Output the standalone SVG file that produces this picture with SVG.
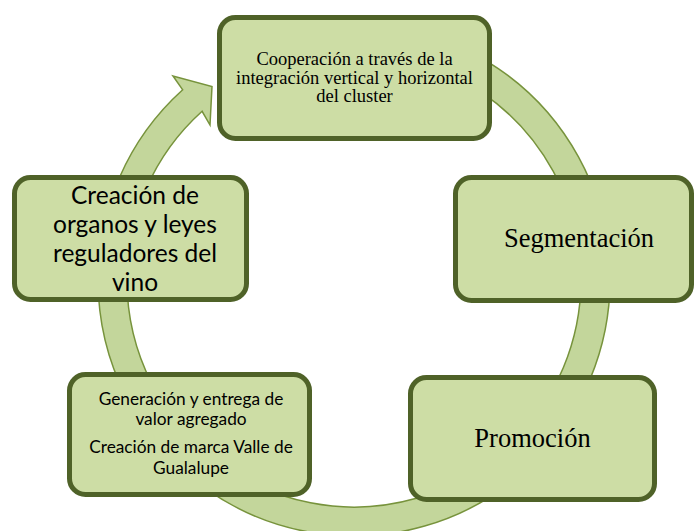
<svg xmlns="http://www.w3.org/2000/svg" width="695" height="531" viewBox="0 0 695 531">
<style>
.box{fill:#cddda5;stroke:#4f6228;stroke-width:5}
.ring{fill:#c3d69b;stroke:#77933c;stroke-width:1.5;stroke-linejoin:miter}
.serif{font-family:"Liberation Serif","Times New Roman",serif;fill:#000;text-anchor:middle}
.sans{font-family:Lato,"Open Sans",sans-serif;fill:#000;text-anchor:middle}
</style>
<rect width="695" height="531" fill="#fff"/>
<g id="connectors">
<path class="ring" d="M398.4,27.9 A256,256 0 1 1 182.7,89.8 L173,76 L212,86.5 L210,125 L202.1,111.3 A227,227 0 1 0 393.4,56.5 Z"/>
</g>
<g id="node-cooperacion">
<rect class="box" x="219.5" y="17.5" width="270" height="121" rx="16"/>
<text class="serif" font-size="18.5"><tspan x="354.5" y="65">Cooperación a través de la</tspan><tspan x="354.5" y="83.5">integración vertical y horizontal</tspan><tspan x="354.5" y="102">del cluster</tspan></text>
</g>
<g id="node-segmentacion">
<rect class="box" x="455.5" y="177.5" width="236" height="123" rx="16"/>
<text class="serif" font-size="26.5" x="579" y="247.3">Segmentación</text>
</g>
<g id="node-promocion">
<rect class="box" x="410.5" y="377.5" width="244" height="122" rx="16"/>
<text class="serif" font-size="26.5" x="532.5" y="447.3">Promoción</text>
</g>
<g id="node-generacion">
<rect class="box" x="69.5" y="374.5" width="240" height="120" rx="16"/>
<text class="sans" font-size="17.3"><tspan x="191" y="405">Generación y entrega de</tspan><tspan x="191" y="425">valor agregado</tspan><tspan x="191" y="453.3">Creación de marca Valle de</tspan><tspan x="191" y="474">Gualalupe</tspan></text>
</g>
<g id="node-creacion">
<rect class="box" x="14.5" y="177.5" width="232" height="122" rx="16"/>
<text class="sans" font-size="24.5"><tspan x="135" y="203.5">Creación de</tspan><tspan x="135" y="232.5">organos y leyes</tspan><tspan x="135" y="261.5">reguladores del</tspan><tspan x="135" y="290.5">vino</tspan></text>
</g>
</svg>
